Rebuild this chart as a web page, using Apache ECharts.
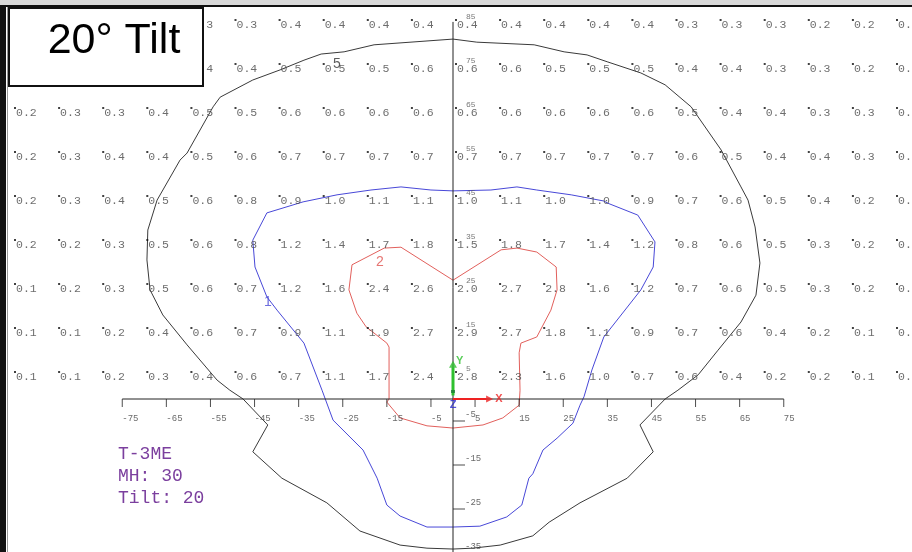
<!DOCTYPE html>
<html><head><meta charset="utf-8">
<script src="https://cdn.jsdelivr.net/npm/echarts@6/dist/echarts.min.js"></script>
<style>html,body{margin:0;padding:0;background:#fff}#c{width:912px;height:552px}</style>
</head><body><div id="c"></div>
<script>
// ---- data ----
const colsX = [-100,-90,-80,-70,-60,-50,-40,-30,-20,-10,0,10,20,30,40,50,60,70,80,90,100];
const rowsY = [85,75,65,55,45,35,25,15,5];
const row85 = [0.2,0.2,0.2,0.3,0.3,0.3,0.4,0.4,0.4,0.4,0.4,0.4,0.4,0.4,0.4,0.3,0.3,0.3,0.2,0.2,0.2];
const row75 = [0.2,0.2,0.3,0.3,0.4,0.4,0.5,0.5,0.5,0.6,0.6,0.6,0.5,0.5,0.5,0.4,0.4,0.3,0.3,0.2,0.2];
const row65 = [0.2,0.3,0.3,0.4,0.5,0.5,0.6,0.6,0.6,0.6,0.6,0.6,0.6,0.6,0.6,0.5,0.4,0.4,0.3,0.3,0.2];
const row55 = [0.2,0.3,0.4,0.4,0.5,0.6,0.7,0.7,0.7,0.7,0.7,0.7,0.7,0.7,0.7,0.6,0.5,0.4,0.4,0.3,0.2];
const row45 = [0.2,0.3,0.4,0.5,0.6,0.8,0.9,1.0,1.1,1.1,1.0,1.1,1.0,1.0,0.9,0.7,0.6,0.5,0.4,0.2,0.2];
const row35 = [0.2,0.2,0.3,0.5,0.6,0.8,1.2,1.4,1.7,1.8,1.5,1.8,1.7,1.4,1.2,0.8,0.6,0.5,0.3,0.2,0.2];
const row25 = [0.1,0.2,0.3,0.5,0.6,0.7,1.2,1.6,2.4,2.6,2.0,2.7,2.8,1.6,1.2,0.7,0.6,0.5,0.3,0.2,0.1];
const row15 = [0.1,0.1,0.2,0.4,0.6,0.7,0.9,1.1,1.9,2.7,2.9,2.7,1.8,1.1,0.9,0.7,0.6,0.4,0.2,0.1,0.1];
const row5  = [0.1,0.1,0.2,0.3,0.4,0.6,0.7,1.1,1.7,2.4,2.8,2.3,1.6,1.0,0.7,0.6,0.4,0.2,0.2,0.1,0.1];

const xTicks = [-75,-65,-55,-45,-35,-25,-15,-5,5,15,25,35,45,55,65,75];
const yTicksNeg = [-5,-15,-25,-35];
const yLabelsPos = [85,75,65,55,45,35,25,15,5];

// isolines (footcandles)
const contourHalf = [[0,81.8],[5.4,81.1],[18.4,80.5],[25.2,78.9],[30.4,78.2],[35.1,76.6],[42.6,74.1],[48.1,71.4],[54.0,66.4],[60.8,56.6],[65.3,48.2],[66.9,45.2],[68.5,39.1],[69.6,30.9],[68.7,23.6],[65.3,17.5],[60.1,11.1],[55.6,5.5],[51.0,2.0],[48.1,0],[42.4,-5.9],[45.4,-12.0],[39.5,-18.0],[28.8,-23.6],[21.8,-28.0],[18.1,-31.1],[10.7,-33.2],[4.5,-33.9],[0,-34.1],[-5.9,-33.9],[-12.0,-33.2],[-21.1,-30.0],[-28.6,-23.6],[-38.8,-18.0],[-45.4,-12.0],[-42.0,-5.9],[-47.6,0],[-50.6,2.0],[-53.5,4.3],[-60.3,12.3],[-65.8,19.1],[-68.7,24.8],[-69.4,31.6],[-69.2,38.4],[-67.1,45.2],[-61.9,54.3],[-60.3,55.9],[-54.4,66.4],[-52.8,68.6],[-45.4,72.5],[-39.2,74.8],[-33.8,77.0],[-29.9,78.4],[-24.7,78.9],[-17.9,80.5],[0,81.8]];
const contourOne = [[0,47.3],[8.6,47.5],[14.5,48.2],[19.0,47.5],[26.8,46.4],[34.2,45.0],[35.1,44.5],[41.9,41.8],[45.8,35.7],[45.4,30.0],[42.6,24.8],[34.2,14.1],[31.5,6.6],[29.7,0.5],[28.8,-1.4],[27.2,-5.5],[23.6,-8.9],[20.4,-11.6],[18.1,-17.0],[17.2,-18.0],[15.6,-24.1],[12.2,-26.8],[6.1,-28.9],[0,-29.1],[-5.9,-29.1],[-12.0,-26.6],[-15.0,-24.1],[-17.2,-18.0],[-20.4,-11.6],[-27.2,-4.8],[-29.7,2.0],[-33.8,12.7],[-39.9,20.2],[-42.2,23.2],[-44.9,30.0],[-45.4,36.1],[-42.2,42.3],[-34.0,44.8],[-26.3,46.4],[-18.6,47.5],[-11.8,48.2],[-5.0,47.5],[0,47.3]];
const contourTwo = [[0,27.0],[-11.8,34.5],[-15.6,34.3],[-22.9,30.5],[-23.6,24.8],[-21.8,19.5],[-19.7,16.4],[-15.0,12.7],[-14.5,11.8],[-14.5,0],[-15.0,-0.7],[-12.0,-4.3],[-5.9,-6.1],[0,-6.6],[6.8,-5.9],[11.3,-4.3],[15.0,-1.4],[15.2,2.0],[15.0,10.5],[15.4,12.7],[19.0,14.1],[22.2,20.2],[23.6,24.8],[23.4,30.0],[19.0,33.4],[14.5,34.3],[10.9,33.9],[0,27.0]];
const contourLabels = [{text:'5', pos:[-26.3,76.1], color:'#333'},{text:'1', pos:[-42.0,22.0], color:'#4a4ad6'},{text:'2', pos:[-16.6,31.1], color:'#e0524f'}];

const infoLines = ['T-3ME','MH: 30','Tilt: 20'];
const titleText = '20° Tilt';

// ---- build ----
const rowValues = [row85,row75,row65,row55,row45,row35,row25,row15,row5];
const gridData = [];
rowsY.forEach((y,i)=>rowValues[i].forEach((v,j)=>gridData.push([colsX[j],y,v])));

const mono = 'Liberation Mono';
const chart = echarts.init(document.getElementById('c'), null, {renderer:'canvas'});

const lineS = (data,color,width,z) => ({type:'line', data, showSymbol:false, symbol:'none', clip:false, silent:true, animation:false, z:z||3, lineStyle:{color, width:width||1}});

const option = {
  animation:false,
  backgroundColor:'#ffffff',
  grid:{left:12, width:882, top:20.6, height:528},
  xAxis:{type:'value', min:-100, max:100, show:false},
  yAxis:{type:'value', min:-34, max:86, show:false},
  series:[
    // grid point dots
    {type:'scatter', data:gridData, symbol:'rect', symbolSize:2, symbolOffset:[3,-5], itemStyle:{color:'#111'}, silent:true, z:4},
    // grid values
    {type:'scatter', data:gridData, symbolSize:0, itemStyle:{color:'rgba(0,0,0,0)'}, silent:true, z:4,
      label:{show:true, position:'right', distance:4, formatter:p=>p.value[2].toFixed(1), fontFamily:mono, fontSize:11.5, color:'#484848'}},
    // contours
    lineS(contourHalf,'#3a3a3a',1),
    lineS(contourOne,'#4848d8',1),
    lineS(contourTwo,'#e2605c',1),
    {type:'scatter', data:contourLabels.map(c=>({value:c.pos, label:{formatter:c.text, color:c.color}})), symbolSize:0, silent:true, z:6,
      label:{show:true, position:'inside', fontFamily:'Liberation Sans', fontSize:14}},
    // axes lines
    lineS([[xTicks[0],0],[xTicks[xTicks.length-1],0]],'#222',1,5),
    lineS([[0,-36],[0,85.7]],'#222',1,5),
    // x ticks
    {type:'scatter', data:xTicks.map(t=>[t,0]), symbol:'rect', symbolSize:[1,8], symbolOffset:[0,4], itemStyle:{color:'#222'}, silent:true, z:5, clip:false,
      label:{show:true, position:'bottom', distance:7, align:'left', formatter:p=>String(p.value[0]), fontFamily:mono, fontSize:9, color:'#444'}},
    // y ticks (negative)
    {type:'scatter', data:yTicksNeg.map(t=>[0,t]), symbol:'rect', symbolSize:[12,1], symbolOffset:[6,0], itemStyle:{color:'#222'}, silent:true, z:5, clip:false,
      label:{show:true, position:[12,-6], align:'left', verticalAlign:'middle', formatter:p=>String(p.value[1]), fontFamily:mono, fontSize:9, color:'#444'}},
    // y labels (positive)
    {type:'scatter', data:yLabelsPos.map(t=>[0,t]), symbolSize:0, silent:true, z:5, clip:false,
      label:{show:true, position:[13,-8], align:'left', verticalAlign:'middle', formatter:p=>String(p.value[1]), fontFamily:mono, fontSize:8, color:'#555'}},
    // axis icon (Y green, X red)
    lineS([[0,0.8],[0,7.2]],'#2ec02e',3,7),
    {type:'scatter', data:[[0,7.9]], symbol:'triangle', symbolSize:[8,7], itemStyle:{color:'#2ec02e'}, silent:true, z:7},
    {type:'scatter', data:[[0,1.7]], symbol:'rect', symbolSize:[4,3], itemStyle:{color:'#1f7a3a'}, silent:true, z:7},
    lineS([[0,0],[7.6,0]],'#ee2222',2,7),
    {type:'scatter', data:[[8.3,0]], symbol:'triangle', symbolSize:[7,7], symbolRotate:-90, itemStyle:{color:'#ee2222'}, silent:true, z:7},
    {type:'scatter', data:[{value:[1.5,8.6],label:{formatter:'Y',color:'#2ec02e'}},{value:[10.4,0],label:{formatter:'X',color:'#ee2222'}},{value:[0,-1.4],label:{formatter:'Z',color:'#2b2bd0'}}],
      symbolSize:0, silent:true, z:8, clip:false, label:{show:true, position:'inside', fontFamily:'Liberation Sans', fontSize:11, fontWeight:'bold'}}
  ],
  graphic:[
    {type:'rect', z:100, shape:{x:0,y:0,width:912,height:5}, style:{fill:'#d9d9d9'}},
    {type:'rect', z:100, shape:{x:0,y:5,width:912,height:2}, style:{fill:'#111'}},
    {type:'rect', z:100, shape:{x:0,y:5,width:6,height:547}, style:{fill:'#111'}},
    {type:'rect', z:100, shape:{x:7,y:7,width:1,height:545}, style:{fill:'#999'}},
    {type:'rect', z:100, shape:{x:9,y:8,width:194,height:78}, style:{fill:'#fff', stroke:'#111', lineWidth:2}},
    {type:'text', z:101, style:{text:titleText, x:114, y:63, textAlign:'center', textVerticalAlign:'bottom', font:'43px "Liberation Sans", Arial, sans-serif', fill:'#000'}},
    {type:'text', z:101, style:{text:infoLines.join('\n'), x:118, y:443, lineHeight:22, font:'18px "Liberation Mono", monospace', fill:'#7b3f9e'}}
  ]
};
chart.setOption(option);
</script></body></html>
